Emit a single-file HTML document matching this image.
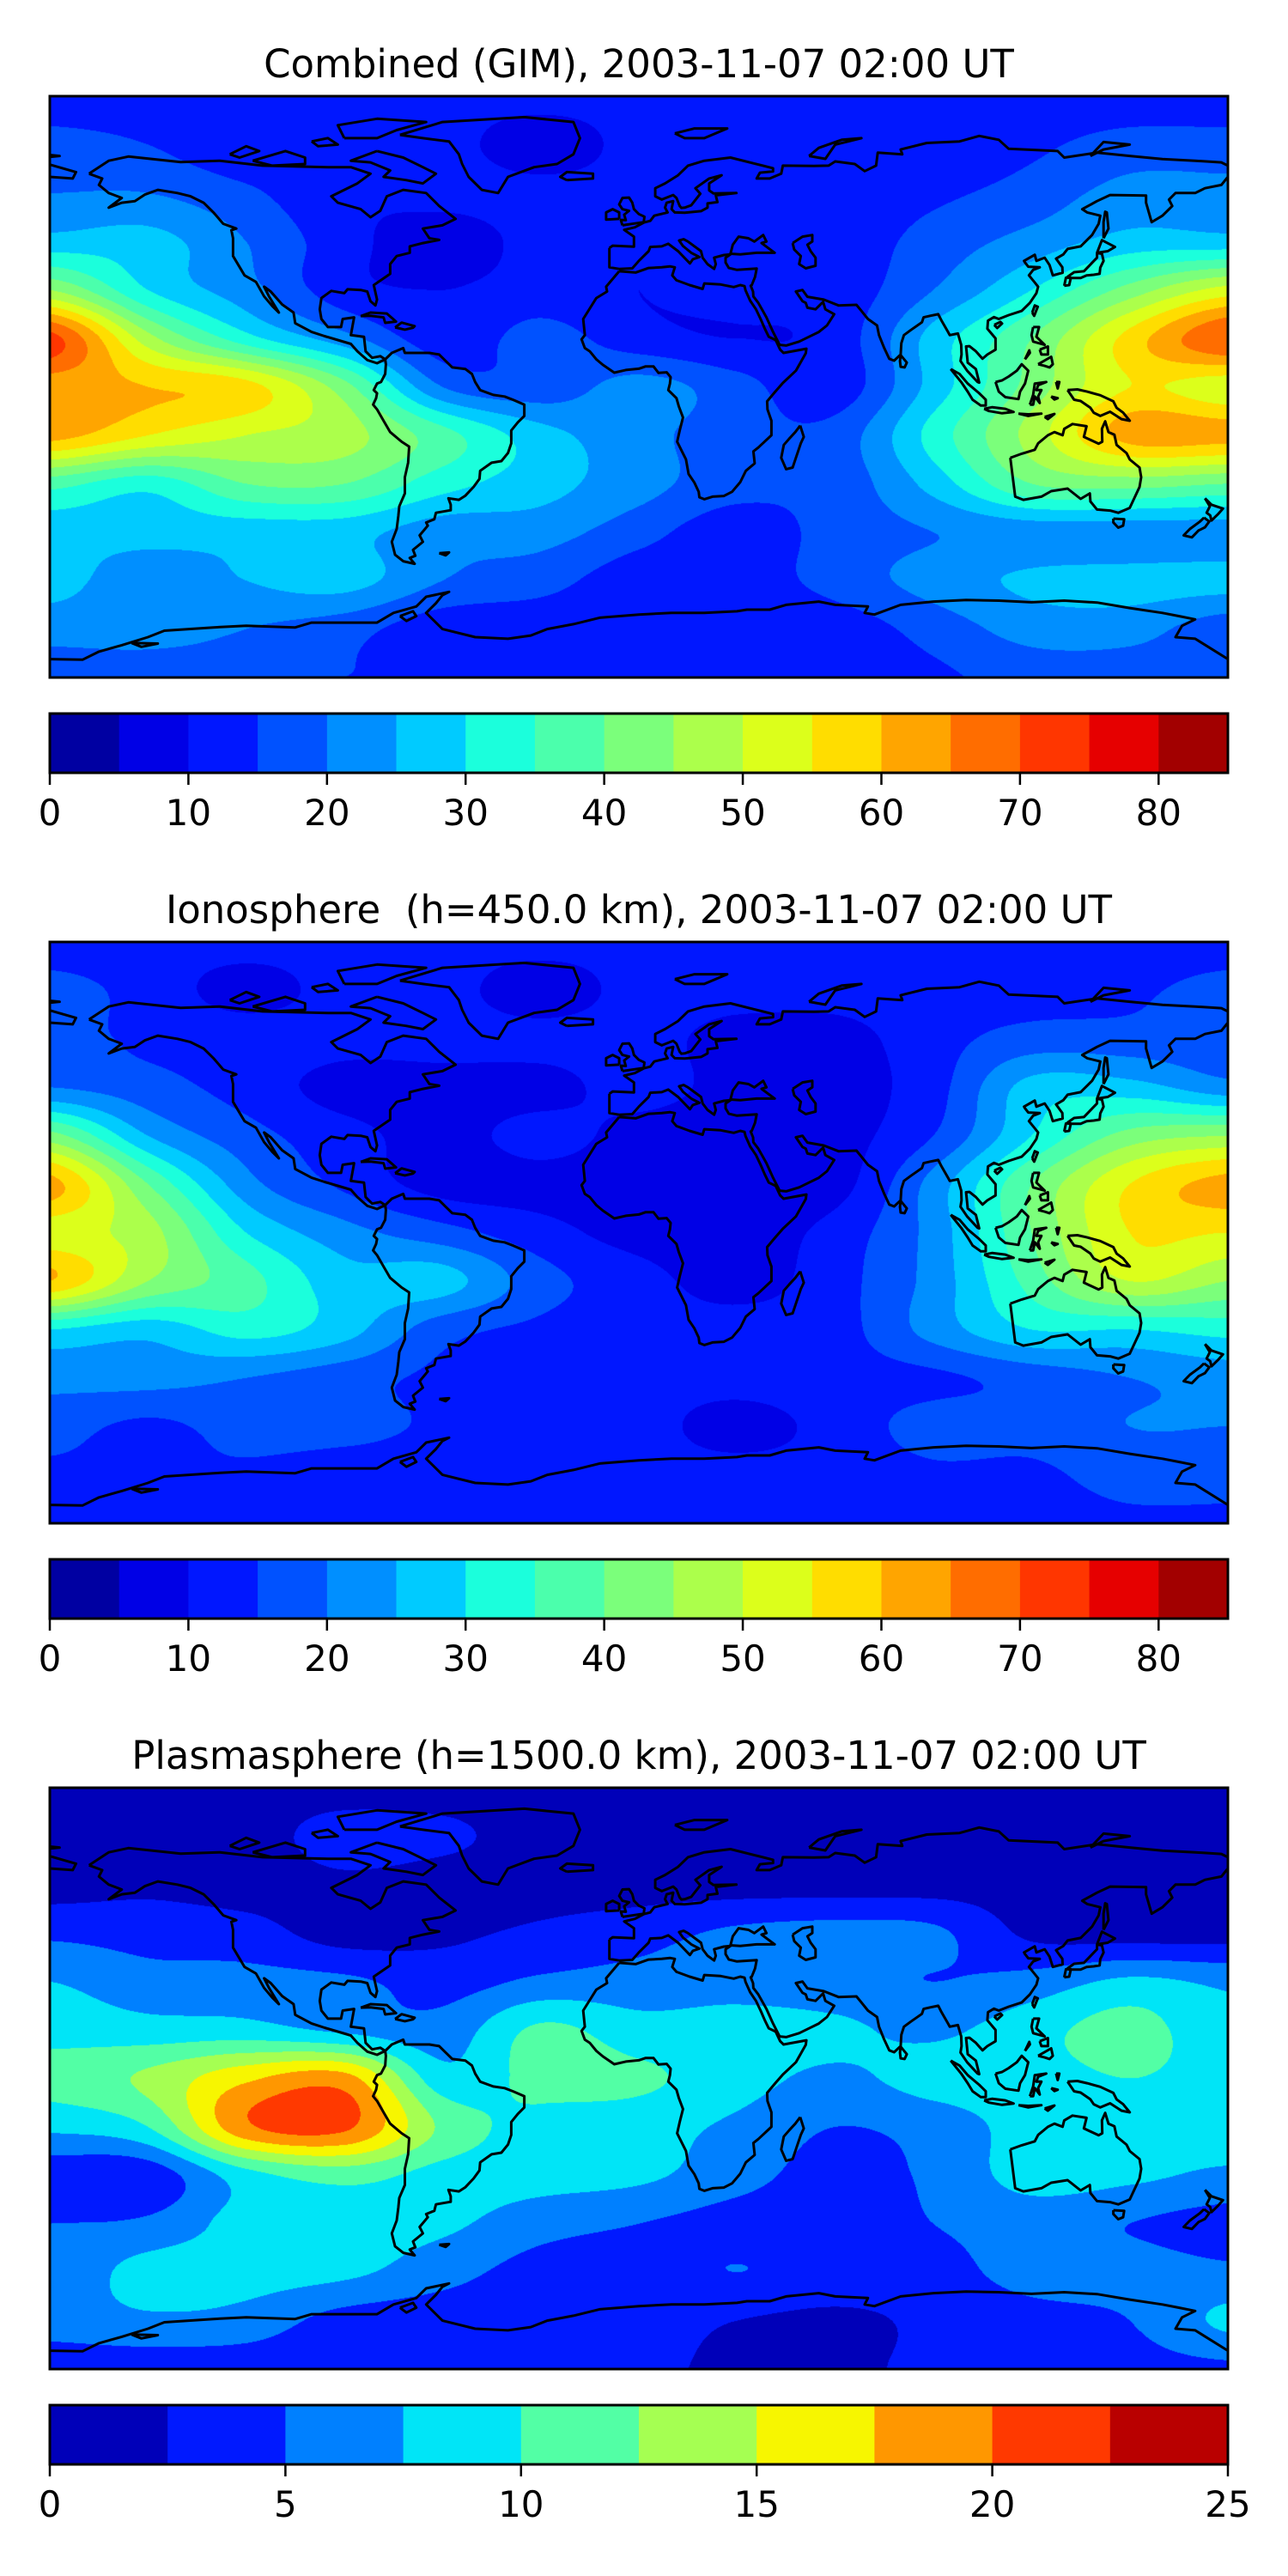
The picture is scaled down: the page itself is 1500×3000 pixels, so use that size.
<!DOCTYPE html>
<html><head><meta charset="utf-8"><title>GIM TEC maps</title>
<style>
html,body{margin:0;padding:0;background:#fff;}
#root{position:relative;width:1500px;height:3000px;overflow:hidden;background:#fff;}
canvas{position:absolute;}
svg{position:absolute;left:0;top:0;}
</style></head>
<body>
<div id="root">
<svg id="ov" width="1500" height="3000"></svg>
</div>
<script>
// ---------- data ----------
const lons = [-180,-150,-120,-90,-60,-30,0,30,60,90,120,150,180];
const lats = [90,75,60,45,30,15,0,-15,-30,-45,-60,-75,-90];
const titles = ["Combined (GIM), 2003-11-07 02:00 UT","Ionosphere  (h=450.0 km), 2003-11-07 02:00 UT","Plasmasphere (h=1500.0 km), 2003-11-07 02:00 UT"];
const combinedGrid = [
 [12,12,12,12,12,12,12,12,12,12,12,12,12],
 [17,15,11,12,12,7,12,14,12,12,14,17,17],
 [20,20,16,11,12,12,12,12,12,14,17,22,22],
 [27,27,20,12,7,12,12,12,12,17,22,27,27],
 [45,30,22,12,10,12,10,12,12,20,30,42,52],
 [72,47,32,22,12,17,12,10,12,27,40,57,70],
 [62,60,57,42,20,17,22,17,12,27,42,55,52],
 [62,55,50,47,37,27,22,17,17,32,47,62,62],
 [37,32,40,40,32,27,22,17,17,27,40,42,40],
 [27,27,27,27,22,22,17,12,17,20,22,22,22],
 [27,22,25,27,20,17,12,12,17,22,26,27,27],
 [22,22,20,17,12,12,12,10,12,17,22,22,17],
 [17,17,17,15,15,14,14,12,12,14,17,17,17]];
const ionoGrid = [
 [12,12,12,12,12,12,12,12,12,12,12,12,12],
 [17,13,8,12,12,7,12,12,12,13,13,14,17],
 [17,14,13,12,12,12,12,8,8,13,17,17,17],
 [20,17,13,8,8,8,12,8,8,13,27,27,22],
 [42,25,17,12,8,12,8,7,8,15,30,42,45],
 [62,40,22,14,8,8,7,7,8,22,40,55,62],
 [52,47,30,22,17,12,8,7,12,22,40,55,55],
 [60,45,37,27,27,17,12,8,13,22,37,50,45],
 [30,27,32,27,17,14,12,12,13,22,30,30,32],
 [22,22,20,17,14,13,12,12,13,14,17,20,22],
 [17,14,17,17,14,13,12,8,12,17,17,20,20],
 [14,14,14,12,12,12,12,12,12,14,14,17,17],
 [12,12,12,12,12,12,12,12,12,13,13,14,14]];
const plasmaGrid = [
 [1.5,1.5,1.5,1.5,1.5,1.5,1.5,1.5,1.5,1.5,1.5,1.5,1.5],
 [1.5,1.5,1.5,3.5,3,1.5,1.5,1.5,1.5,1.5,1.5,2,1.5],
 [1.5,2,1.5,2,1.5,1.5,1.5,1.5,1.5,1.5,1.5,1.5,1.5],
 [4.5,4,3.5,1.5,2,3,4,5.5,6,5.5,2,1.5,1.5],
 [7.5,6,6,5.5,4,5.5,6,6.5,6,5,6,8,7],
 [9,8.5,8.5,7,6,10.5,8.5,8.5,8,7,9,11,8],
 [11,13,17,18.5,8.5,11,10.5,8.5,7,8.5,9,10,9],
 [8,10,19.5,20.5,12,9,8.5,7,5,6,8.5,8.5,9],
 [3.5,3.5,9,11,9,8.5,8,6,4,5.5,8.5,8,7],
 [5,5.5,8.5,8.5,8,6,5,4,3.5,5,6,5,4],
 [5.5,8.5,8.5,8,6,4,4,5,4,4,6,6,5.5],
 [6,7,6.5,4,3.5,3.5,3.5,2.5,2,3,4,5,8],
 [3.5,3.5,3.5,3,3,3,3,2,2,3,3.5,4,4.5]];
const gimLevels = [0,5,10,15,20,25,30,35,40,45,50,55,60,65,70,75,80,85];
const plasmaLevels = [0,2.5,5,7.5,10,12.5,15,17.5,20,22.5,25];
const gimTicks = [0,10,20,30,40,50,60,70,80];
const plasmaTicks = [0,5,10,15,20,25];

// ---------- coastlines [lon,lat] ----------
const coasts = [
[[-168,66],[-162,70],[-156,71.3],[-140,69.6],[-128,70],[-115,68.5],[-95,68],[-88,68],[-82,66],[-86,63],[-94,59],[-92,57],[-85,55],[-82,52.5],[-79,54.5],[-77,59],[-72,61],[-65,60],[-61,56],[-56,52],[-60,50],[-66,49],[-64,46],[-61,45.5],[-66,44.5],[-70,43.5],[-70,41.5],[-74,40.5],[-76,38],[-76,35],[-81,31.5],[-80,27],[-80.5,25.2],[-82,26.5],[-83,29.5],[-85,30],[-89,30.2],[-90,29],[-94,29.7],[-97,27.5],[-97.5,24],[-97,21],[-95,18.5],[-91,18.5],[-90.5,21],[-87,21.5],[-88,16],[-84,15.5],[-83.5,11],[-81.5,9],[-79,9.5],[-77.5,8.5],[-80,7.3],[-83,8.3],[-86,11],[-88,13.3],[-92,14.5],[-96,15.7],[-100,17],[-105,19.7],[-105.5,23],[-109,25.5],[-112.5,29.5],[-114.5,31],[-113,28],[-110,23],[-112,25],[-114.5,28],[-117,32.5],[-120.5,34.5],[-124,40.5],[-124,46],[-124.5,48.5],[-123,49],[-127,50.5],[-130,54],[-133,57],[-137,59],[-141,60],[-147,61],[-151,59.5],[-154,57.5],[-158,57],[-162,55.5],[-158,58.5],[-162,60],[-165,62.5],[-164,64.5],[-168,66]],
[[-73,78],[-60,82],[-35,83.5],[-20,82],[-18,77],[-20,72],[-25,69],[-32,68],[-40,65],[-43,60],[-48,61],[-52,65],[-54,69],[-55,72],[-58,76],[-66,77],[-73,78]],
[[-80,73],[-72,71],[-66,68],[-62,66],[-66,63],[-71,64],[-78,65],[-76,67],[-82,69.5],[-88,70],[-80,73]],
[[-90,77],[-80,77],[-74,79.5],[-65,82],[-80,83],[-92,81],[-90,77]],
[[-118,70],[-108,73],[-102,71],[-102,69],[-112,68.5],[-118,70]],
[[-125,72],[-120,74.5],[-116,73],[-122,71],[-125,72]],
[[-100,76],[-95,77],[-92,75],[-98,74.5],[-100,76]],
[[-22,64],[-14,64.5],[-14,66],[-22,66.5],[-24,65],[-22,64]],
[[-5,50],[1.5,51],[1.7,52.7],[0,53.5],[-1.5,55],[-2,57],[-3,58.6],[-5,58.5],[-6,56.5],[-5,55],[-3,54.5],[-4.5,53.3],[-4,51.6],[-5.5,51.7],[-5,50]],
[[-6,52],[-6,54],[-8,55],[-10,54],[-10,51.8],[-6,52]],
[[-9,43],[-9,37],[-6,36.5],[-2,36.7],[0,39],[3,42],[3.5,43.3],[7,43.5],[9,44.3],[12,42],[15.6,38.2],[16.5,39.5],[18.5,40.2],[16,41.5],[13.5,43.6],[12.3,45.3],[13.7,45.7],[15,45],[19,42],[19.5,40],[21,38],[23,36.5],[23.5,38],[23,40],[26,40.8],[28,41],[26.5,40],[26.5,38.5],[27.5,36.8],[30,36.2],[36,36.6],[35.5,34],[34.5,31.5],[34.2,31.3],[34.9,29.5],[35,28],[36.5,26],[39,21.5],[41,17],[43,13],[45,12.8],[49,14],[52,15.5],[55,17],[57.5,19],[59.7,22.5],[57,24],[56.3,26.3],[54,24],[51.5,24.5],[51,26],[50,26.5],[48,29.5],[50,30],[51.5,27.9],[56.5,27],[61,25.2],[66.5,25.4],[68,23.5],[70,21],[72.8,19],[73.4,16],[75,12],[76.5,8.7],[78,8.1],[80,10],[80.2,13.5],[81,16],[83,17.5],[86.5,20],[87,21.5],[89,22],[91.5,22.5],[92.5,20.5],[94.5,17],[95,16],[97.5,16.5],[98.5,13],[98.6,10],[98.3,8],[100.3,5],[103.5,1.5],[104,1.3],[103,5.5],[100.5,7.5],[100,12.5],[101,12.6],[103,11],[105,8.7],[106.5,10],[109,11.5],[109,15],[106.5,18],[106.7,20.5],[108.5,21.6],[110,21],[113,22.2],[117,23.5],[119.5,26],[121.5,29],[122,31],[121,32.3],[119.2,34.5],[120.5,36.2],[122.5,37],[119,37.2],[118,38.5],[117.7,39],[121,40.9],[121.5,39],[124,40],[125.5,37.7],[126.5,34.5],[129.5,35.3],[129.4,37],[127.5,39.7],[129.7,41],[131,42.7],[135,43.5],[138.5,47],[140.5,50.5],[141,53],[137,54],[135.5,55],[140,57.5],[144,59.4],[151,59.3],[155,59.2],[155,57],[156.7,51],[160,53],[163,56],[162,58],[164,60],[170,60],[173,61.5],[178,62.5],[180,65],[180,68.5],[178,69.5],[170,70],[160,70.5],[150,71.5],[140,72.5],[130,71],[128,73],[113,73.7],[110,76.5],[104,77.7],[98,76],[88,75.5],[80,73.5],[80.5,72],[73,72.5],[72.5,68.5],[69,66.8],[66,69],[60,69.8],[58,68.5],[53.5,68.4],[44,68.5],[43.5,66],[40,64.5],[36,64.5],[37,66.3],[41,66.7],[41,67.7],[35,69.2],[28,71],[20,70],[15,68.5],[12,65.5],[8,63],[5,61.5],[5,59],[7,58],[10.5,59.4],[11.5,58.5],[12.5,56],[13,55.4],[14,55.5],[16,56.2],[18.8,59.8],[17.3,61.5],[21.5,64.5],[25.3,65.5],[21.5,63],[21.5,60.8],[22.8,59.9],[29.8,60],[23.5,59.3],[24,57.2],[21,56.8],[21,55.5],[19,54.4],[14,53.9],[11,54],[10,55],[10.5,57.5],[8.5,57],[8,55.5],[8.8,54],[4.7,53],[3.5,51.4],[1.6,50.9],[-1.2,49.4],[-4.5,48.6],[-1.5,46.5],[-1.5,43.4],[-8,43.7],[-9,43]],
[[28,41.2],[28.7,44],[30.5,46.5],[33.5,46],[35.3,45],[38,47],[39,45],[37.5,44.5],[41.5,41.5],[36,41.5],[31,41],[28,41.2]],
[[47,44.5],[50,46.5],[53,47],[53,45],[51.5,44],[52.5,42],[54,40],[54,37.5],[51,36.7],[49,38],[49.5,40.5],[47.5,42.5],[47,44.5]],
[[-6,35.8],[-10,31],[-9.7,29.5],[-13,27.5],[-17,21],[-16.5,16],[-17.5,14.7],[-16.5,12],[-15,11],[-13,8.5],[-11,6.8],[-7.5,4.4],[-4,5.2],[0,5.6],[2,6.3],[4.5,6.3],[6,4.3],[8.5,4.5],[9.7,3],[9.5,1],[9,-1],[11.5,-3.5],[12.2,-6],[13.5,-9.5],[12.5,-13.5],[11.7,-17],[14.4,-22.5],[15.2,-27],[17,-29.7],[18.3,-32.5],[18.5,-34.2],[20,-34.8],[22.5,-34],[26,-33.8],[28.5,-32.5],[31,-29.5],[32.7,-26],[35.4,-23.7],[35,-20],[36.5,-18.8],[40.5,-15],[40.5,-10.5],[39.3,-7],[39.2,-4.5],[41.5,-1.7],[44,1.2],[48,5],[51,10.4],[51.2,11.8],[48,11.2],[44.2,10.5],[43.2,11.5],[41.8,14.5],[39.7,15.5],[38.5,18],[37.2,21],[35.8,24],[34,26.7],[32.6,29.9],[32.3,31.2],[31,31.5],[29,30.9],[25,31.7],[20,32],[19.5,30.3],[15.5,31.5],[11.5,33],[10.2,34.5],[11,37],[9.5,37.3],[7,37],[3,36.8],[-1,35.4],[-6,35.8]],
[[49.3,-12],[50.4,-15.5],[49.5,-17.5],[48,-22],[47,-25],[45,-25.5],[43.5,-22],[44.3,-18],[46,-16],[47.8,-14],[49.3,-12]],
[[80,9.8],[81.9,7.5],[81.2,6],[80,6.2],[79.8,8],[80,9.8]],
[[-77.5,8.5],[-75.5,10.5],[-72,12],[-71.5,10.5],[-68,10.5],[-64,10.5],[-61,10],[-59,8],[-57,6],[-53,5.5],[-51,4],[-50,1.5],[-48.5,-1],[-44.5,-2.5],[-41,-3],[-38.5,-4],[-35,-5.5],[-35,-9],[-37,-11],[-39,-13.5],[-39,-17.5],[-40,-20.5],[-42,-23],[-45,-23.5],[-48.5,-26],[-48.7,-28.5],[-50.5,-31],[-53,-33.7],[-55,-35],[-58.2,-34.5],[-57.5,-36.5],[-57.5,-38.2],[-62,-39],[-62.5,-41],[-65,-42],[-64.5,-43],[-67,-46],[-66,-48],[-69,-50.5],[-68.3,-52.3],[-70,-53],[-68.5,-54.8],[-72,-54],[-74.5,-52],[-75.5,-48],[-74,-44],[-73.5,-40],[-73.2,-37],[-71.5,-33],[-71.5,-28],[-70.5,-23.5],[-70.2,-18.5],[-72.5,-17],[-76,-14],[-78,-10.5],[-80,-7],[-81.2,-5.5],[-80.3,-3.5],[-80,-2],[-81,-1],[-80,1],[-78.8,1.5],[-77.5,4],[-77.3,7],[-77.5,8.5]],
[[-85,21.9],[-82,23],[-77,22.7],[-74.2,20.2],[-77.5,19.8],[-78,21.5],[-82,22],[-85,21.9]],
[[-74.5,18.4],[-72.5,19.9],[-68.5,18.8],[-69,18.3],[-71.5,17.7],[-74.5,18.4]],
[[-61,-51.5],[-58,-51.3],[-59,-52.2],[-61,-51.5]],
[[113.5,-22],[114,-26],[115,-34],[117.5,-35],[123,-34],[126,-32.3],[131,-31.5],[135,-34.7],[137.8,-33],[138,-35.5],[140,-38],[144,-38.3],[146.5,-39],[150,-37.5],[153,-31],[153.5,-28],[153,-25],[150,-22.5],[149,-20.5],[146,-18],[145.3,-14.8],[143.5,-14],[142.5,-10.7],[141.5,-13],[141.6,-17],[140.5,-17.6],[136,-15.5],[136.8,-12.2],[132.5,-11.5],[130,-13],[129.5,-15],[127,-14],[125,-15],[122,-17.5],[121,-19.5],[117,-20.7],[114,-21.8],[113.5,-22]],
[[145,-40.8],[148.3,-41],[148,-43],[146.5,-43.6],[145,-42],[145,-40.8]],
[[173,-34.5],[175,-36.5],[178.5,-37.7],[176.9,-39.5],[175,-41.4],[174.6,-39.8],[173.5,-39],[174.5,-37],[173,-34.5]],
[[172.7,-40.5],[174.3,-41.7],[173,-43.5],[171,-44.5],[169,-46.6],[166.5,-46],[168.4,-44],[171.5,-41.7],[172.7,-40.5]],
[[131,-1],[134,-0.8],[137,-1.5],[141,-2.6],[145,-4.5],[146,-6.5],[148,-8],[150,-10.5],[147.5,-10],[144,-7.7],[141,-9],[139,-8],[138,-6.5],[135,-4.4],[133,-4],[132,-2.5],[131,-1]],
[[109,1.5],[110,-1.5],[112,-3.2],[116,-3.8],[116.5,-1.5],[118,1],[119,5],[117,7],[115.5,5],[113,3.2],[111,2],[109,1.5]],
[[95.3,5.5],[98,4],[100.5,1],[104,-2],[106,-4],[106,-5.8],[104.5,-5.8],[102,-4],[100.5,-1.5],[98.5,1.5],[95.3,5.5]],
[[105.5,-6.8],[108,-6.3],[112,-6.8],[114.5,-7.8],[111,-8.2],[107,-7.5],[105.5,-6.8]],
[[116,-8.3],[119,-8.5],[123,-8.3],[119,-9],[116,-8.3]],
[[124,-9.3],[127,-8.4],[125,-10],[124,-9.3]],
[[119.5,-5.5],[120.5,-2.5],[121,1],[124.5,1.5],[122,0.5],[121.5,-1],[123,-1],[122,-3],[122.5,-5],[121,-3],[120.5,-5.5],[119.5,-5.5]],
[[127.5,1.5],[128,-0.5],[128.5,1.5],[127.5,1.5]],
[[126,-3],[128,-3.5],[127,-3.9],[126,-3]],
[[120.5,18.5],[122.3,18.5],[121.5,15.5],[124,13],[120.5,14],[120,16],[120.5,18.5]],
[[122,7],[126,9.3],[126.5,7],[125.5,6],[124,6.5],[122,7]],
[[122.5,11.5],[125,12.5],[125,10],[123,10],[122.5,11.5]],
[[118,8.5],[119.5,10.5],[119.3,11.3],[118,8.5]],
[[120.2,23],[121,25.2],[121.9,24.8],[120.8,22],[120.2,23]],
[[108.6,19.2],[110.5,20.1],[111,19.6],[109.5,18.2],[108.6,19.2]],
[[130.9,34],[133,35.5],[136,35.8],[140,40],[140,41.4],[141.5,41.2],[142,39],[141,36.9],[140.8,35],[139,34.7],[136.8,34.5],[135,33.7],[131.5,33.7],[130.9,34]],
[[140,41.5],[141.5,45.4],[145.5,43.3],[143.3,42],[140,41.5]],
[[130,31.3],[131.5,31.5],[132,33.8],[130.5,33.8],[130,31.3]],
[[142,46],[143.5,49],[143,54],[142.5,54.2],[142,51],[142,46]],
[[52,71.5],[57,70.6],[60,75],[68,77],[62,76.5],[55,74],[52,71.5]],
[[11,78.5],[17,80],[27,80],[20,77],[14,77],[11,78.5]],
[[138,71.5],[142,73.5],[150,75],[142,75.8],[138,71.5]],
[[-180,65],[-173,64.5],[-172,66.5],[-180,68.8]],
[[-180,71.2],[-177,71.5],[-180,71.8]],
[[-180,-84.3],[-170,-84.5],[-165,-82],[-158,-80],[-150,-77.5],[-145,-75.5],[-130,-74.5],[-120,-74],[-105,-74.5],[-100,-73],[-90,-73],[-80,-73],[-75,-70],[-68,-68],[-65,-65],[-58,-63.5],[-60,-64.5],[-62,-67],[-65,-70],[-62,-73],[-60,-75],[-50,-77.5],[-40,-78],[-33,-77],[-28,-75],[-20,-73.5],[-12,-71.5],[0,-70.5],[10,-70],[20,-70],[30,-69.5],[33,-69],[40,-69],[45,-67.5],[55,-66.5],[60,-67.5],[70,-68],[69,-70],[72,-70.5],[80,-67.5],[90,-66.5],[100,-66],[110,-66.2],[120,-66.7],[130,-66.2],[140,-66.8],[150,-68.5],[160,-70],[165,-71],[170,-72],[166,-74],[164,-77.5],[170,-78],[180,-84.3]],
[[-73,-71],[-69,-69.5],[-68,-71],[-71,-72.5],[-73,-71]],
[[-155,-79.3],[-147,-79.5],[-152,-80.5],[-155,-79.3]]
];

// ---------- layout ----------
const MX = 58, MW = 1372, MH = 677, PANEL_DY = 985;
const ns = 'http://www.w3.org/2000/svg';
const ov = document.getElementById('ov');
const root = document.getElementById('root');

function jet(x){
  function seg(pts){ for(let i=0;i<pts.length-1;i++){const a=pts[i],b=pts[i+1]; if(x>=a[0]&&x<=b[0]) return a[1]+(b[1]-a[1])*(x-a[0])/(b[0]-a[0]);} return x<pts[0][0]?pts[0][1]:pts[pts.length-1][1]; }
  const r=seg([[0,0],[0.35,0],[0.66,1],[0.89,1],[1,0.5]]);
  const g=seg([[0,0],[0.125,0],[0.375,1],[0.64,1],[0.91,0],[1,0]]);
  const b=seg([[0,0.5],[0.11,1],[0.34,1],[0.65,0],[1,0]]);
  return [Math.round(r*255),Math.round(g*255),Math.round(b*255)];
}
function cr(p0,p1,p2,p3,t){ return 0.5*((2*p1)+(-p0+p2)*t+(2*p0-5*p1+4*p2-p3)*t*t+(-p0+3*p1-3*p2+p3)*t*t*t); }
function sample(grid,u,v){
  const nR=grid.length,nC=grid[0].length;
  const i=Math.min(Math.floor(v),nR-2), j=Math.min(Math.floor(u),nC-2);
  const tv=v-i, tu=u-j; const rows=[];
  for(let di=-1;di<=2;di++){
    const r=grid[Math.max(0,Math.min(nR-1,i+di))];
    const c=k=>r[Math.max(0,Math.min(nC-1,j+k))];
    rows.push(cr(c(-1),c(0),c(1),c(2),tu));
  }
  return cr(rows[0],rows[1],rows[2],rows[3],tv);
}
function el(tag,attrs,parent){ const e=document.createElementNS(ns,tag); for(const k in attrs) e.setAttribute(k,attrs[k]); (parent||ov).appendChild(e); return e; }

function drawPanel(k,grid,levels,ticks){
  const top = 112 + k*PANEL_DY;
  const n = levels.length-1, vmin=levels[0], step=levels[1]-levels[0];
  const colors = []; for(let i=0;i<n;i++) colors.push(jet((i+0.5)/n));
  const t = el('text',{x:744,y:top-22,'text-anchor':'middle','font-family':'DejaVu Sans, Liberation Sans, sans-serif','font-size':45,fill:'#000',style:'white-space:pre'});
  t.textContent = titles[k];
  
  
  const cv=document.createElement('canvas'); cv.width=MW; cv.height=MH;
  cv.style.left=MX+'px'; cv.style.top=top+'px';
  
  
  root.insertBefore(cv, ov);
  const ctx=cv.getContext('2d'); const img=ctx.createImageData(MW,MH); const d=img.data;
  for(let y=0;y<MH;y++){
    const lat = 90-(y+0.5)/MH*180; const v=(90-lat)/15;
    for(let x=0;x<MW;x++){
      const lon=-180+(x+0.5)/MW*360; const u=(lon+180)/30;
      let val=sample(grid,u,v);
      let li=Math.floor((val-vmin)/step); if(li<0)li=0; if(li>n-1)li=n-1;
      const c=colors[li]; const o=(y*MW+x)*4; d[o]=c[0];d[o+1]=c[1];d[o+2]=c[2];d[o+3]=255;
    }
  }
  ctx.putImageData(img,0,0);
  const cid='clip'+k;
  const cp=el('clipPath',{id:cid}); el('rect',{x:MX,y:top,width:MW,height:MH},cp);
  const g=el('g',{'clip-path':'url(#'+cid+')',fill:'none',stroke:'#000','stroke-width':3,'stroke-linejoin':'round'});
  
  
  coasts.forEach(line=>{
    const pts=line.map(p=>(MX+(p[0]+180)/360*MW).toFixed(1)+','+(top+(90-p[1])/180*MH).toFixed(1)).join(' ');
    const pl=el('polyline',{points:pts},g);
    
    
  });
  const fr=el('rect',{x:MX,y:top,width:MW,height:MH,fill:'none',stroke:'#000','stroke-width':3});
  
  
  const cbTop = top + 719, cbH = 69;
  const xs = val => MX + (val-vmin)/(levels[n]-vmin)*MW;
  const cb=el('g',{});
  
  
  for(let i=0;i<n;i++){
    const c=colors[i];
    const r=el('rect',{x:xs(levels[i]),y:cbTop,width:xs(levels[i+1])-xs(levels[i])+0.6,height:cbH,fill:'rgb('+c.join(',')+')'},cb);
    
    
  }
  el('rect',{x:MX,y:cbTop,width:MW,height:cbH,fill:'none',stroke:'#000','stroke-width':3},cb);
  ticks.forEach(tv=>{
    const x=xs(tv);
    const tk=el('line',{x1:x,x2:x,y1:cbTop+cbH,y2:cbTop+cbH+14,stroke:'#000','stroke-width':2.5},cb);
    
    
    const tl=el('text',{x:x,y:cbTop+cbH+61,'text-anchor':'middle','font-family':'DejaVu Sans, Liberation Sans, sans-serif','font-size':42,fill:'#000'},cb);
    tl.textContent=String(tv);
    
    
  });
}
drawPanel(0,combinedGrid,gimLevels,gimTicks);
drawPanel(1,ionoGrid,gimLevels,gimTicks);
drawPanel(2,plasmaGrid,plasmaLevels,plasmaTicks);
</script>
</body></html>
